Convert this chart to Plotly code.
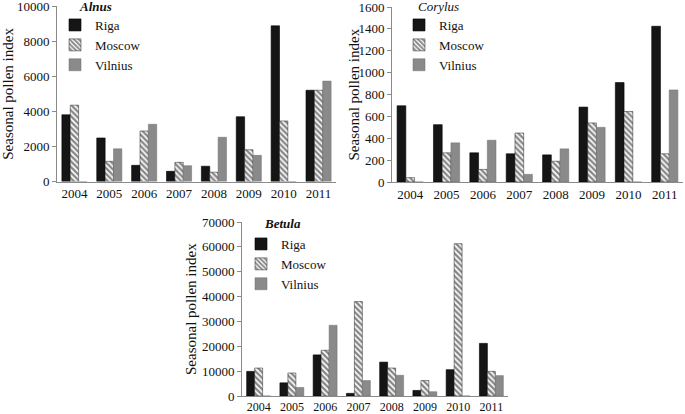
import plotly.graph_objects as go

years = ["2004", "2005", "2006", "2007", "2008", "2009", "2010", "2011"]
cities = ["Riga", "Moscow", "Vilnius"]

alnus_riga = [3800, 2480, 920, 580, 870, 3690, 8870, 5200]
alnus_moscow = [4350, 1150, 2880, 1090, 530, 1810, 3450, 5200]
alnus_vilnius = [0, 1860, 3260, 900, 2520, 1490, 0, 5720]

corylus_riga = [697, 524, 267, 258, 248, 685, 909, 1424]
corylus_moscow = [40, 267, 115, 448, 190, 540, 645, 258]
corylus_vilnius = [0, 358, 382, 70, 303, 500, 0, 842]

betula_riga = [9900, 5300, 16540, 1060, 13630, 2250, 10590, 21170]
betula_moscow = [11250, 9260, 18390, 37980, 11250, 6220, 61270, 9920]
betula_vilnius = [0, 3440, 28450, 6220, 8340, 1720, 0, 8200]

W, H = 685, 414
SERIF = "Liberation Serif, Times New Roman, serif"

panels = [
    # title, data, suffix, x px, y px (top,bottom), ymax, dtick, legend (x,top), title pos, ytitle x, xtick size
    ("<b><i>Alnus</i></b>", (alnus_riga, alnus_moscow, alnus_vilnius), "", (57, 336), (6, 181.5), 10000, 2000, (55, 10), (77, 7), 8, 13),
    ("<i>Corylus</i>", (corylus_riga, corylus_moscow, corylus_vilnius), "2", (392, 683), (7, 182), 1600, 200, (399, 10), (416, 7), 353, 13),
    ("<b><i>Betula</i></b>", (betula_riga, betula_moscow, betula_vilnius), "3", (242, 508), (222, 396), 70000, 10000, (241, 229), (262, 224), 191, 12),
]

styles = [
    dict(color="#151515", line=dict(color="#000000", width=0.6)),
    dict(color="white", line=dict(color="#222222", width=0.5),
         pattern=dict(shape="\\", fgcolor="#111111", bgcolor="white", size=4, solidity=0.6)),
    dict(color="#8a8a8a", line=dict(color="#6e6e6e", width=0.5)),
]

fig = go.Figure()
annotations = []
layout = {}
for title, data, sfx, (x0, x1), (yt, yb), ymax, dtick, (lx, ly), (ttx, tty), tx, xts in panels:
    legname = "legend" + sfx
    for ci, city in enumerate(cities):
        fig.add_trace(go.Bar(
            x=years, y=data[ci], name=city,
            xaxis="x" + sfx, yaxis="y" + sfx,
            marker=styles[ci], legend=legname,
        ))
    layout["xaxis" + sfx] = dict(
        domain=[x0 / W, x1 / W], anchor="y" + sfx, type="category",
        showline=True, linecolor="#8a8a8a", linewidth=1, ticks="",
        tickfont=dict(family=SERIF, size=xts, color="#111"), showgrid=False,
        automargin=False, ticklabeloverflow="allow",
    )
    layout["yaxis" + sfx] = dict(
        domain=[1 - yb / H, 1 - yt / H], anchor="x" + sfx, range=[0, ymax],
        dtick=dtick, tickformat="d", showline=True, linecolor="#8a8a8a", linewidth=1,
        ticks="outside", ticklen=4, tickcolor="#8a8a8a", showgrid=False,
        zeroline=False, automargin=False, ticklabeloverflow="allow",
        tickfont=dict(family=SERIF, size=13, color="#111"),
    )
    layout[legname] = dict(
        x=lx / W, y=1 - ly / H, xanchor="left", yanchor="top",
        bgcolor="rgba(0,0,0,0)", borderwidth=0,
        font=dict(family=SERIF, size=13, color="#111"),
        tracegroupgap=0, itemwidth=30,
    )
    annotations.append(dict(
        text="Seasonal pollen index", textangle=-90,
        x=tx / W, y=1 - (yt + yb) / 2 / H, xref="paper", yref="paper",
        xanchor="center", yanchor="middle",
        showarrow=False, font=dict(family=SERIF, size=15, color="#111"),
    ))
    annotations.append(dict(
        text=title, x=ttx / W, y=1 - tty / H, xref="paper", yref="paper",
        xanchor="left", yanchor="middle", showarrow=False,
        font=dict(family=SERIF, size=13, color="#111"),
    ))

fig.update_layout(
    width=W, height=H, margin=dict(l=0, r=0, t=0, b=0),
    paper_bgcolor="white", plot_bgcolor="white",
    barmode="group", bargap=0.28, bargroupgap=0.0,
    showlegend=True, annotations=annotations, **layout,
)

fig.write_html(
    "out.html",
    config={"displayModeBar": False},
    post_script="document.body.style.margin='0';document.body.style.overflow='hidden';",
)
